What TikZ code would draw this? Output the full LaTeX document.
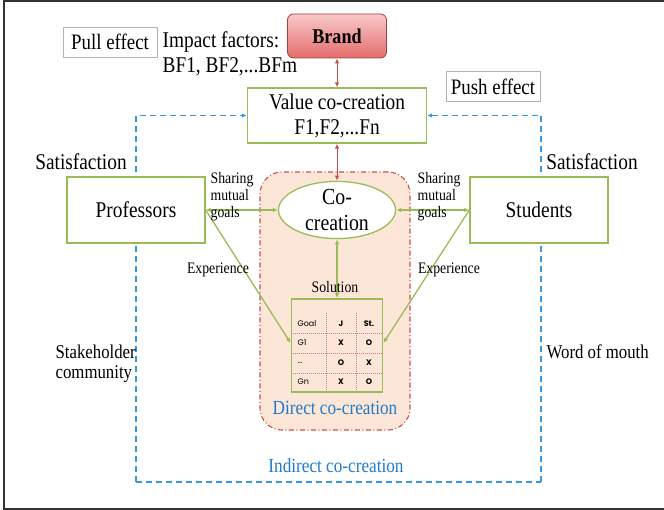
\documentclass[tikz,border=0pt]{standalone}
\usepackage{fontspec}
\setmainfont{Liberation Serif}[FakeStretch=0.86]
\newfontfamily\gridfont{Poppins}
\usetikzlibrary{arrows.meta,shapes.geometric}

\begin{document}
\begin{tikzpicture}[x=1pt,y=-1pt, line width=1.3pt,
    box/.style={draw=greenline, fill=white, line width=1.3pt, inner sep=0pt, align=center, font=\fontsize{22.5}{25}\selectfont},
    tag/.style={draw=black!30, fill=white, line width=0.8pt, minimum width=94, minimum height=30, inner sep=0pt, font=\fontsize{22}{24}\selectfont},
    lbl/.style={inner sep=0pt, font=\fontsize{22.5}{20}\selectfont},
    small/.style={inner sep=0pt, align=left, font=\fontsize{16}{17}\selectfont},
    bluelbl/.style={inner sep=0pt, text=bluetext, font=\fontsize{20}{22}\selectfont},
    redarr/.style={draw=redline, line width=1pt, {Latex[length=5pt,width=4.5pt]}-{Latex[length=5pt,width=4.5pt]}},
    greenarr/.style={draw=greenline, line width=1.3pt, {Latex[length=5pt,width=4.5pt]}-{Latex[length=5pt,width=4.5pt]}},
    greento/.style={draw=greenline, line width=1.3pt, -{Latex[length=5pt,width=4.5pt]}},
    indirect/.style={draw=blueline, line width=1.6pt, dash pattern=on 6pt off 4pt},
    griddot/.style={draw=dotred, line width=0.9pt, dash pattern=on 1pt off 1pt},
    cell/.style={inner sep=0pt, font=\gridfont\fontsize{8}{9}\selectfont}
]
    \definecolor{greenline}{HTML}{9BBB59}
    \definecolor{redline}{HTML}{C9504D}
    \definecolor{blueline}{HTML}{3A96DD}
    \definecolor{bluetext}{HTML}{1F7BC9}
    \definecolor{peach}{HTML}{FCE6D8}
    \definecolor{dotred}{HTML}{C98080}
    \definecolor{brandtop}{HTML}{F9C9C9}
    \definecolor{brandbot}{HTML}{E46C6C}

    \useasboundingbox (0,0) rectangle (664,510);
    \draw[line width=2pt, black!80] (664,1.5) -- (3.5,1.5) -- (3.5,508.5) -- (664,508.5); % frame

    % indirect co-creation loop
    \coordinate (lb) at (136,482);
    \coordinate (rb) at (541,482);

    % direct co-creation area
    \node[fill=peach, draw=redline, line width=1.1pt, rounded corners=22pt,
          dash pattern=on 5pt off 2.5pt on 1pt off 2.5pt,
          minimum width=150, minimum height=258] (direct) at (335,301) {};

    \node[draw=redline!80!black, line width=0.8pt, rounded corners=6pt, top color=brandtop, bottom color=brandbot,
          minimum width=99, minimum height=44, font=\bfseries\fontsize{21}{24}\selectfont] (brand) at (337,36) {Brand};
    \node[tag] (pull) at (110,42) {Pull effect};
    \node[tag] (push) at (493,86.5) {Push effect};
    \node[lbl, anchor=west, align=left, font=\fontsize{22.5}{25}\selectfont] (impact) at (162,54) {Impact factors:\\BF1, BF2,...BFm};

    \node[box, minimum width=179, minimum height=55] (value) at (337,115.5) {Value co-creation\\F1,F2,...Fn};

    \draw[indirect, -{Latex[length=5pt,width=4.5pt]}] (lb) |- (value.west);
    \draw[indirect, -{Latex[length=5pt,width=4.5pt]}] (rb) |- (value.east);
    \draw[indirect] (lb) -- (rb);

    \node[box, minimum width=138, minimum height=66] (prof) at (136,210) {Professors};
    \node[box, minimum width=138, minimum height=66] (stud) at (539,210) {Students};
    \node[box, ellipse, minimum width=117, minimum height=54, font=\fontsize{23}{25}\selectfont] (cocreate) at (337,210) {Co-\\creation};

    % solution table
    \node[draw=greenline, line width=1.8pt, minimum width=91, minimum height=93, inner sep=0pt] (table) at (337,345.5) {};
    \foreach \gy in {333,353,373}
        \draw[griddot] (292.5,\gy) -- (381.5,\gy);
    \foreach \gx in {326,356}
        \draw[griddot] (\gx,313) -- (\gx,391);
    \foreach \row/\ry/\ca/\cb/\cc in {1/324/Goal/J/St., 2/343/G1/X/O, 3/363/{\ldots}/O/X, 4/382/Gn/X/O}{
        \node[cell, anchor=west] (c\row a) at (297,\ry) {\ca};
        \node[cell, font=\gridfont\bfseries\fontsize{8}{9}\selectfont] (c\row b) at (341,\ry) {\cb};
        \node[cell, font=\gridfont\bfseries\fontsize{8}{9}\selectfont] (c\row c) at (369,\ry) {\cc};
    }

    \draw[redarr] (brand.south) -- (value.north);
    \draw[redarr] (value.south) -- (cocreate.north);
    \draw[greenarr] (prof.east) -- (cocreate.west);
    \draw[greenarr] (stud.west) -- (cocreate.east);
    \draw[greenarr] (cocreate.south) -- (table.north);
    \draw[greento] (prof.east) -- (table.west |- c2a);
    \draw[greento] (stud.west) -- (table.east |- c2a);

    \node[lbl] (satl) at (81,162) {Satisfaction};
    \node[lbl] (satr) at (592,162) {Satisfaction};
    \node[lbl, anchor=west, align=left, font=\fontsize{19.5}{20}\selectfont] (stake) at (55,364) {Stakeholder\\community};
    \node[lbl, anchor=west, font=\fontsize{19.5}{20}\selectfont] (wom) at (546,352) {Word of mouth};
    \node[small, anchor=west] (sharel) at (210,197) {Sharing\\mutual\\goals};
    \node[small, anchor=west] (sharer) at (417,197) {Sharing\\mutual\\goals};
    \node[small] (expl) at (218,270) {Experience};
    \node[small] (expr) at (449,270) {Experience};
    \node[small] (sol) at (335,287) {Solution};
    \node[bluelbl] (directlbl) at (335,408) {Direct co-creation};
    \node[bluelbl] (indirectlbl) at (336,466) {Indirect co-creation};
\end{tikzpicture}
\end{document}
